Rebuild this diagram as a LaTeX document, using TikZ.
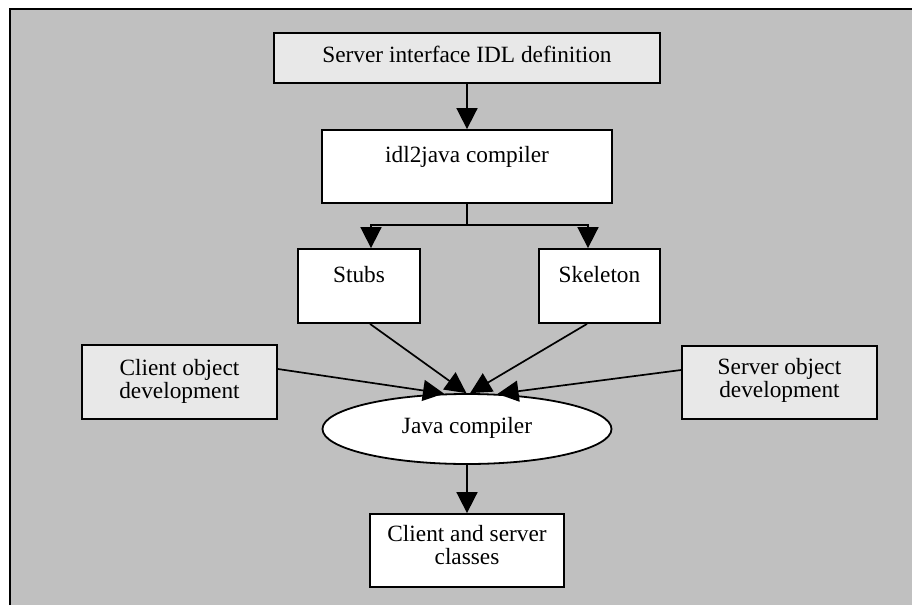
\documentclass[tikz,border=0pt]{standalone}
\usepackage{fontspec}
\setmainfont{Liberation Serif}
\usetikzlibrary{arrows.meta,shapes.geometric}
\definecolor{panel}{RGB}{192,192,192}
\definecolor{boxgrey}{RGB}{232,232,232}
\begin{document}
\begin{tikzpicture}[x=1pt,y=-1pt]
\tikzset{
  edge/.style={draw=black, line width=2pt},
  boxbase/.style={draw=black, line width=1.8pt, rectangle, inner sep=0pt},
  plainbox/.style={boxbase, fill=white},
  greybox/.style={boxbase, fill=boxgrey},
  oval/.style={ellipse, draw=black, line width=1.8pt, fill=white, inner sep=0pt},
  txt/.style={font=\fontsize{23.3}{23}\selectfont, align=center, inner sep=0pt},
  wire/.style={line width=1.7pt},
  link/.style={wire, -{Triangle[length=21pt,width=21pt]}},
}
\useasboundingbox (0,0) rectangle (912,605);
\fill[white] (0,0) rectangle (912,605);
% grey panel, open to the right and bottom
\fill[panel] (10,9) rectangle (912,605);
\draw[edge] (10,605) -- (10,9) -- (912,9);

% boxes (text nodes are placed by the baseline of their last line)
\node[greybox, minimum width=386, minimum height=50] (idl) at (467,58) {};
\node[txt, anchor=base] (idl-t) at (467,62.5) {Server interface IDL definition};

\node[plainbox, minimum width=290, minimum height=73] (idlj) at (467,166.5) {};
\node[txt, anchor=base] (idlj-t) at (467,162) {idl2java compiler};

\node[plainbox, minimum width=122, minimum height=74] (stubs) at (359,286) {};
\node[txt, anchor=base] (stubs-t) at (359,282) {Stubs};

\node[plainbox, minimum width=121, minimum height=74] (skel) at (599.5,286) {};
\node[txt, anchor=base] (skel-t) at (599.5,282) {Skeleton};

\node[greybox, minimum width=195, minimum height=74] (cli) at (179.5,382) {};
\node[txt, anchor=base] (cli-t) at (179.5,398) {Client object\\development};

\node[greybox, minimum width=195, minimum height=73] (srv) at (779.5,382.5) {};
\node[txt, anchor=base] (srv-t) at (779.5,397) {Server object\\development};

\node[oval, minimum width=289, minimum height=70] (jc) at (467,429) {};
\node[txt, anchor=base] (jc-t) at (467,433) {Java compiler};

\node[plainbox, minimum width=194, minimum height=73] (cls) at (467,550.5) {};
\node[txt, anchor=base] (cls-t) at (467,564) {Client and server\\classes};

% connectors
\coordinate (split) at (467,225);
\coordinate (splitL) at (371,225);
\coordinate (splitR) at (588,225);

\draw[link] (idl.south) -- (idlj.north);
\draw[wire] (idlj.south) -- (split);
\draw[link] (split) -- (splitL) -- (splitL |- stubs.north);
\draw[link] (split) -- (splitR) -- (splitR |- skel.north);

\draw[link] ([yshift=13pt]cli.east) -- (jc.123.3);
\draw[link] ([xshift=11pt]stubs.south) -- (jc.91.7);
\draw[link] ([xshift=-12.5pt]skel.south) -- (jc.85);
\draw[link] ([yshift=12.5pt]srv.west) -- (jc.49.5);
\draw[link] (jc.south) -- (cls.north);
\end{tikzpicture}
\end{document}
